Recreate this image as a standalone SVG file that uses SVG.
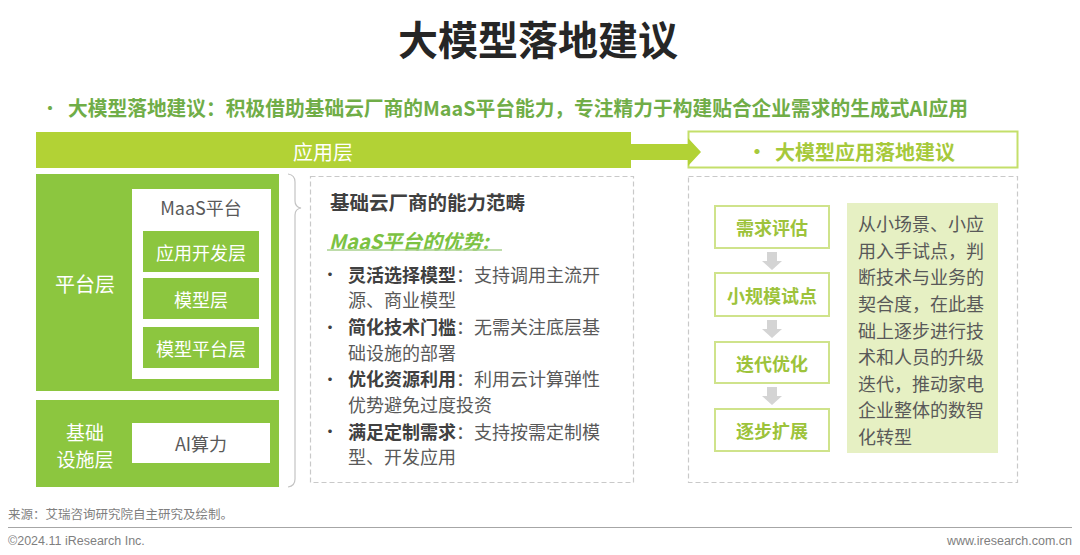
<svg xmlns="http://www.w3.org/2000/svg" width="1080" height="555" viewBox="0 0 1080 555">
<style>
text{font-family:"Noto Sans CJK SC","Noto Sans",sans-serif;dominant-baseline:central}
.title{font-size:40px;font-weight:bold;fill:#262626;text-anchor:middle}
.sub{font-size:20px;font-weight:bold;fill:#70ad47}
.wt{fill:#ffffff;text-anchor:middle}
.gt{fill:#595959;text-anchor:middle;font-size:18px}
.body{font-size:18px;fill:#595959}
.bd{font-weight:bold;fill:#404040}
.bul{font-size:17px;fill:#404040;text-anchor:middle}
.flow{font-size:18px;font-weight:bold;fill:#9dc33b;text-anchor:middle}
.dash{fill:none;stroke:#c9c9c9;stroke-width:1.2;stroke-dasharray:5 3}
.fbox{fill:#ffffff;stroke:#cfe38b;stroke-width:2}
.foot{font-family:"Liberation Sans Narrow","Liberation Sans","Noto Sans CJK SC",sans-serif;font-size:12.5px;fill:#7f7f7f}
</style>
<defs>
<path id="darr" d="M-5 0 H5 V9 H10 L0 18 L-10 9 H-5 Z" fill="#d4d4d4"/>
</defs>
<rect width="1080" height="555" fill="#ffffff"/>

<text class="title" x="538" y="38">大模型落地建议</text>
<g id="subtitle">
<text x="50" y="107" style="font-size:16px;font-weight:bold;fill:#70ad47;text-anchor:middle">·</text>
<text class="sub" x="68" y="107" textLength="900" lengthAdjust="spacingAndGlyphs">大模型落地建议：积极借助基础云厂商的MaaS平台能力，专注精力于构建贴合企业需求的生成式AI应用</text>
</g>

<g id="app-layer">
<rect x="36" y="132" width="595" height="36" fill="#b2d235"/>
<text class="wt" x="323" y="151" style="font-size:20px">应用层</text>
</g>

<g id="suggest-header">
<rect x="688.5" y="131.5" width="329" height="36" fill="#ffffff" stroke="#c4df6a" stroke-width="2"/>
<text x="757" y="150" style="font-size:20px;font-weight:bold;fill:#a6c93b;text-anchor:middle">·</text>
<text x="775" y="151" style="font-size:20px;font-weight:bold;fill:#a6c93b">大模型应用落地建议</text>
</g>

<g id="connectors">
<path d="M630 144 H688 V138 L701 152 L688 166 V160 H630 Z" fill="#b2d235"/>
<path d="M288 174 Q295 175 295 182 V201 Q295 207 301 208 Q295 209 295 215 V479 Q295 486 288 487" fill="none" stroke="#c3c3c3" stroke-width="1.2"/>
<use href="#darr" x="772" y="252"/>
<use href="#darr" x="772" y="320"/>
<use href="#darr" x="772" y="387"/>
</g>

<g id="platform-layer">
<rect x="36" y="174" width="243" height="217" fill="#8cc63f"/>
<text class="wt" x="85" y="283" style="font-size:20px">平台层</text>
<rect x="132" y="189" width="139" height="190" fill="#ffffff"/>
<text class="gt" x="201" y="207">MaaS平台</text>
<rect x="143" y="231" width="116" height="41" fill="#8cc63f"/>
<text class="wt" x="201" y="251.5" style="font-size:18px">应用开发层</text>
<rect x="143" y="278" width="116" height="41" fill="#8cc63f"/>
<text class="wt" x="201" y="298.5" style="font-size:18px">模型层</text>
<rect x="143" y="327" width="116" height="41" fill="#8cc63f"/>
<text class="wt" x="201" y="347.5" style="font-size:18px">模型平台层</text>
</g>

<g id="infra-layer">
<rect x="36" y="400" width="243" height="87" fill="#8cc63f"/>
<text class="wt" x="85" y="431" style="font-size:19px">基础</text>
<text class="wt" x="85" y="458" style="font-size:19px">设施层</text>
<rect x="132" y="423" width="138" height="40" fill="#ffffff"/>
<text class="gt" x="201" y="443">AI算力</text>
</g>

<g id="capability">
<rect class="dash" x="310.5" y="176.5" width="323" height="306"/>
<text x="330" y="201" style="font-size:19.5px;font-weight:bold;fill:#404040">基础云厂商的能力范畴</text>
<text x="329" y="240" style="font-size:20px;font-weight:bold;font-style:italic;fill:#7cc242">MaaS平台的优势:</text>
<line x1="327" y1="250" x2="502" y2="250" stroke="#a9d18e" stroke-width="1.5"/>
<g class="body">
<text class="bul" x="330" y="273.5">•</text>
<text x="348" y="273.5"><tspan class="bd">灵活选择模型</tspan>：支持调用主流开</text>
<text x="348" y="299">源、商业模型</text>
<text class="bul" x="330" y="326">•</text>
<text x="348" y="326"><tspan class="bd">简化技术门槛</tspan>：无需关注底层基</text>
<text x="348" y="351.5">础设施的部署</text>
<text class="bul" x="330" y="378">•</text>
<text x="348" y="378"><tspan class="bd">优化资源利用</tspan>：利用云计算弹性</text>
<text x="348" y="404">优势避免过度投资</text>
<text class="bul" x="330" y="430.5">•</text>
<text x="348" y="430.5"><tspan class="bd">满足定制需求</tspan>：支持按需定制模</text>
<text x="348" y="456">型、开发应用</text>
</g>
</g>

<g id="suggestion">
<rect class="dash" x="688.5" y="176.5" width="329" height="306"/>
</g>

<g id="step1"><rect class="fbox" x="715" y="206" width="114" height="42"/><text class="flow" x="772" y="227">需求评估</text></g>
<g id="step2"><rect class="fbox" x="715" y="273" width="114" height="43"/><text class="flow" x="772" y="294.5">小规模试点</text></g>
<g id="step3"><rect class="fbox" x="715" y="342" width="114" height="41"/><text class="flow" x="772" y="362.5">迭代优化</text></g>
<g id="step4"><rect class="fbox" x="715" y="409" width="114" height="42"/><text class="flow" x="772" y="430">逐步扩展</text></g>

<g id="note">
<rect x="847" y="203" width="151" height="250" fill="#e6f0c3"/>
<g class="body">
<text x="858" y="223">从小场景、小应</text>
<text x="858" y="249.5">用入手试点，判</text>
<text x="858" y="276">断技术与业务的</text>
<text x="858" y="302.5">契合度，在此基</text>
<text x="858" y="329.5">础上逐步进行技</text>
<text x="858" y="356">术和人员的升级</text>
<text x="858" y="382.5">迭代，推动家电</text>
<text x="858" y="409">企业整体的数智</text>
<text x="858" y="435.5">化转型</text>
</g>
</g>

<g id="footer">
<text class="foot" x="8" y="513" style="font-family:'Noto Sans CJK SC',sans-serif;font-size:12.5px">来源：艾瑞咨询研究院自主研究及绘制。</text>
<line x1="8" y1="527.5" x2="1072" y2="527.5" stroke="#a6a6a6" stroke-width="1"/>
<text class="foot" x="8" y="541">©2024.11 iResearch Inc.</text>
<text class="foot" x="1072" y="541" style="text-anchor:end">www.iresearch.com.cn</text>
</g>
</svg>
